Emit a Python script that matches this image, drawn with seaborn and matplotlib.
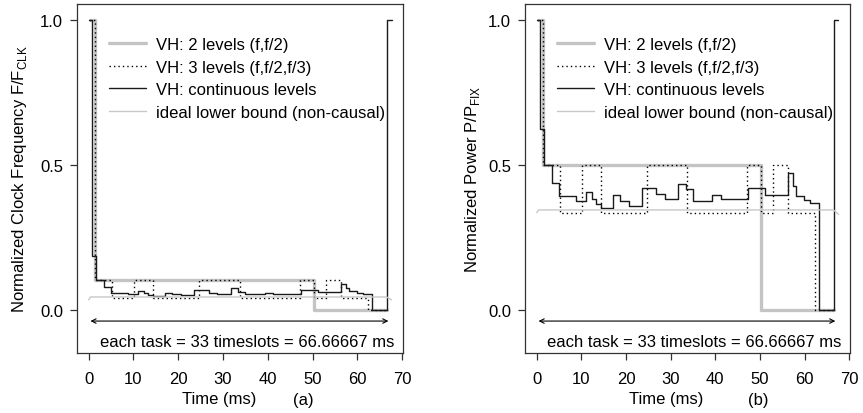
import matplotlib
matplotlib.use("Agg")
import matplotlib.pyplot as plt
import seaborn as sns
import pandas as pd

# step breakpoints (ms), values hold until the next breakpoint
task_ms = 66.66667

t2 = [0.6, 1.5, 50.3, 66.6]
f2 = [1.0, 0.102, 0.0, 0.0]
p2 = [1.0, 0.5, 0.0, 0.0]

t3 = [0.0, 1.5, 5.3, 10.2, 14.3, 24.7, 33.7, 47.1, 50.3, 52.9, 56.4, 62.3, 66.6]
f3 = [1.0, 0.102, 0.042, 0.102, 0.042, 0.102, 0.042, 0.102, 0.042, 0.102, 0.042, 0.0, 0.0]
p3 = [1.0, 0.5, 0.334, 0.5, 0.334, 0.5, 0.334, 0.5, 0.334, 0.5, 0.334, 0.0, 0.0]

tc = [0.0, 0.7, 1.6, 3.4, 4.9, 8.7, 11.1, 12.4, 13.3, 14.3, 17.0, 18.6, 20.7,
      23.5, 26.8, 28.7, 31.7, 33.4, 34.9, 39.3, 41.2, 47.4, 51.2, 56.3, 57.4,
      58.2, 59.8, 61.3, 63.2, 66.67, 67.6]
fc = [1.0, 0.186, 0.102, 0.08, 0.06, 0.055, 0.064, 0.058, 0.052, 0.047, 0.06,
      0.055, 0.051, 0.069, 0.06, 0.054, 0.075, 0.063, 0.054, 0.06, 0.056,
      0.068, 0.062, 0.089, 0.077, 0.066, 0.06, 0.054, 0.0, 1.0, 1.0]
pc = [1.0, 0.624, 0.5, 0.437, 0.394, 0.376, 0.407, 0.382, 0.365, 0.353, 0.396,
      0.376, 0.359, 0.422, 0.399, 0.382, 0.434, 0.417, 0.376, 0.396, 0.382,
      0.419, 0.396, 0.471, 0.426, 0.394, 0.38, 0.368, 0.0, 1.0, 1.0]

tb = [0.0, 0.4, 66.5, 67.6]
fb = [0.035, 0.045, 0.045, 0.035]
pb = [0.336, 0.345, 0.345, 0.33]

labels = ["VH: 2 levels (f,f/2)", "VH: 3 levels (f,f/2,f/3)",
          "VH: continuous levels", "ideal lower bound (non-causal)"]
xticks = [0, 10, 20, 30, 40, 50, 60, 70]
yticks = [0.0, 0.5, 1.0]

sns.set_theme(style="white")
plt.rcParams["font.family"] = ["Liberation Sans", "DejaVu Sans"]
plt.rcParams["mathtext.fontset"] = "custom"
plt.rcParams["mathtext.rm"] = "Liberation Sans"
plt.rcParams["font.size"] = 12
plt.rcParams["text.color"] = "black"
plt.rcParams["axes.labelcolor"] = "black"
plt.rcParams["xtick.color"] = "black"
plt.rcParams["ytick.color"] = "black"

fig = plt.figure(figsize=(8.63, 4.14), dpi=100)
ax1 = fig.add_axes([0.0892, 0.145, 0.378, 0.843])
ax2 = fig.add_axes([0.6085, 0.145, 0.3765, 0.843])

styles = [dict(color="#c4c4c4", lw=2.4),
          dict(color="black", lw=1.0, ls=(0, (1, 2.2))),
          dict(color="#1a1a1a", lw=1.0),
          dict(color="#c8c8c8", lw=1.0)]

panels = [(ax1, [f2, f3, fc, fb], r"Normalized Clock Frequency F/F$_{\mathrm{CLK}}$", "(a)", 303, -0.147),
          (ax2, [p2, p3, pc, pb], r"Normalized Power P/P$_{\mathrm{FIX}}$", "(b)", 758, -0.133)]

for ax, ys, ylab, tag, tagx, ylx in panels:
    for tt, yy, lab, st in zip([t2, t3, tc, tb], ys, labels, styles):
        df = pd.DataFrame({"t": tt, "v": yy})
        ds = "default" if tt is tb else "steps-post"
        sns.lineplot(data=df, x="t", y="v", ax=ax, estimator=None, sort=False,
                     drawstyle=ds, label=lab, **st)
    ax.set_xlim(-2.6, 70.2)
    ax.set_ylim(-0.148, 1.055)
    ax.set_xticks(xticks)
    ax.set_yticks(yticks)
    ax.set_xticklabels([str(x) for x in xticks])
    ax.set_yticklabels(["%.1f" % y for y in yticks])
    ax.tick_params(axis="both", direction="out", length=5, width=0.9,
                   color="#333333", labelcolor="black", labelsize=12,
                   left=True, bottom=True)
    ax.tick_params(axis="x", pad=8)
    ax.tick_params(axis="y", pad=5)
    for s in ax.spines.values():
        s.set_color("#333333")
        s.set_linewidth(0.9)
    ax.set_ylabel(ylab, fontsize=12)
    ax.yaxis.set_label_coords(ylx, 0.5)
    ax.set_xlabel("Time (ms)", fontsize=12)
    ax.xaxis.set_label_coords(0.435, -0.108)
    leg = ax.legend(loc="upper left", bbox_to_anchor=(0.099, 0.905),
                    frameon=False, fontsize=12, handlelength=2.2,
                    handletextpad=0.6, labelspacing=0.45, borderpad=0,
                    borderaxespad=0)
    ax.annotate("", xy=(0.4, -0.038), xytext=(66.9, -0.038),
                arrowprops=dict(arrowstyle="<->", lw=0.8, color="black",
                                mutation_scale=8, shrinkA=0, shrinkB=0))
    ax.text(35.3, -0.108, "each task = 33 timeslots = %.5f ms" % task_ms,
            ha="center", va="center", fontsize=12)
    fig.text(tagx / 863, 1 - 401 / 414, tag, ha="center", va="center", fontsize=12)

fig.savefig("out.png", dpi=100)
